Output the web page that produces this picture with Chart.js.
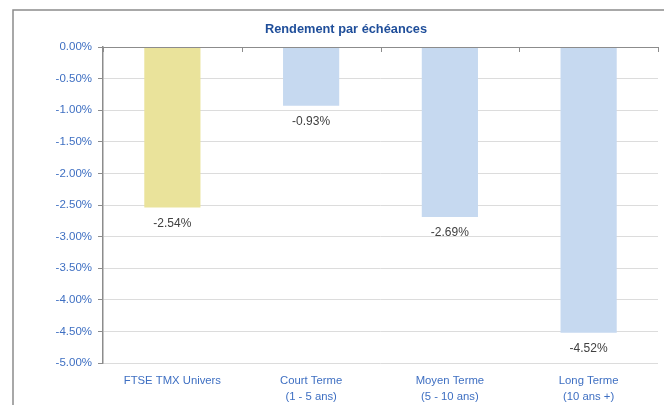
<!DOCTYPE html>
<html>
<head>
<meta charset="utf-8">
<script src="https://cdn.jsdelivr.net/npm/chart.js@4/dist/chart.umd.min.js"></script>
<style>
html,body{margin:0;padding:0;background:#fff;}
#wrap{width:664px;height:405px;position:relative;}
</style>
</head>
<body>
<div id="wrap"><canvas id="c" width="664" height="405"></canvas></div>
<script>
const chartTitle = "Rendement par échéances";
const categories = [["FTSE TMX Univers"], ["Court Terme", "(1 - 5 ans)"], ["Moyen Terme", "(5 - 10 ans)"], ["Long Terme", "(10 ans +)"]];
const returns = [-2.54, -0.93, -2.69, -4.52];
const barColors = ["#EAE39B", "#C6D9F0", "#C6D9F0", "#C6D9F0"];
const yMin = -5.0, yMax = 0.0, yStep = 0.5;

const FONT = "'Liberation Sans', Arial, sans-serif";

const framePlugin = {
  id: 'frame',
  beforeDraw(chart) {
    const ctx = chart.ctx;
    ctx.save();
    ctx.fillStyle = '#fff';
    ctx.fillRect(0, 0, chart.width, chart.height);
    ctx.strokeStyle = '#8C8C8C';
    ctx.lineWidth = 1.5;
    ctx.beginPath();
    ctx.moveTo(13, chart.height);
    ctx.lineTo(13, 10);
    ctx.lineTo(chart.width, 10);
    ctx.stroke();
    ctx.fillStyle = '#1F4E9A';
    ctx.font = "bold 12.8px " + FONT;
    ctx.textAlign = 'center';
    ctx.textBaseline = 'middle';
    ctx.fillText(chartTitle, 346, 29);
    ctx.restore();
  },
  afterDatasetsDraw(chart) {
    const ctx = chart.ctx;
    const ca = chart.chartArea;
    const y0 = chart.scales.y.getPixelForValue(0);
    ctx.save();
    ctx.strokeStyle = '#8C8C8C';
    ctx.lineWidth = 1;
    ctx.beginPath();
    ctx.moveTo(ca.left - 5, Math.round(y0) + 0.5);
    ctx.lineTo(ca.right, Math.round(y0) + 0.5);
    const n = categories.length;
    for (let i = 0; i <= n; i++) {
      const x = Math.round(ca.left + (ca.right - ca.left) * i / n) + 0.5;
      ctx.moveTo(x, y0);
      ctx.lineTo(x, y0 + 5);
    }
    ctx.stroke();
    const meta = chart.getDatasetMeta(0);
    ctx.fillStyle = '#404040';
    ctx.font = "12px " + FONT;
    ctx.textAlign = 'center';
    ctx.textBaseline = 'middle';
    meta.data.forEach((bar, i) => {
      ctx.fillText(returns[i].toFixed(2) + '%', bar.x, bar.y + 16);
    });
    ctx.restore();
  }
};

new Chart(document.getElementById('c'), {
  type: 'bar',
  data: {
    labels: categories,
    datasets: [{
      data: returns,
      backgroundColor: barColors,
      borderWidth: 0,
      categoryPercentage: 1.0,
      barPercentage: 0.405
    }]
  },
  options: {
    responsive: false,
    animation: false,
    events: [],
    layout: { padding: { left: 0, right: 6, top: 47, bottom: 0 } },
    plugins: { legend: { display: false }, tooltip: { enabled: false }, title: { display: false } },
    scales: {
      x: {
        grid: { display: false, drawTicks: false },
        border: { display: false },
        ticks: {
          color: '#3E6FC2',
          font: { family: FONT, size: 11.3, lineHeight: 1.42 },
          padding: 10,
          maxRotation: 0,
          autoSkip: false
        },
        afterFit(scale) { scale.height = 42; }
      },
      y: {
        min: yMin, max: yMax,
        ticks: {
          stepSize: yStep,
          color: '#3E6FC2',
          font: { family: FONT, size: 11.5 },
          padding: 6,
          callback: (v) => v.toFixed(2) + '%'
        },
        grid: {
          color: (c) => c.tick && c.tick.value === 0 ? 'rgba(0,0,0,0)' : '#DCDCDC',
          tickColor: '#8C8C8C',
          tickLength: 5,
          lineWidth: 1
        },
        border: { display: true, color: '#8C8C8C', width: 1.5 },
        afterFit(scale) { scale.width = 103; }
      }
    }
  },
  plugins: [framePlugin]
});
</script>
</body>
</html>
